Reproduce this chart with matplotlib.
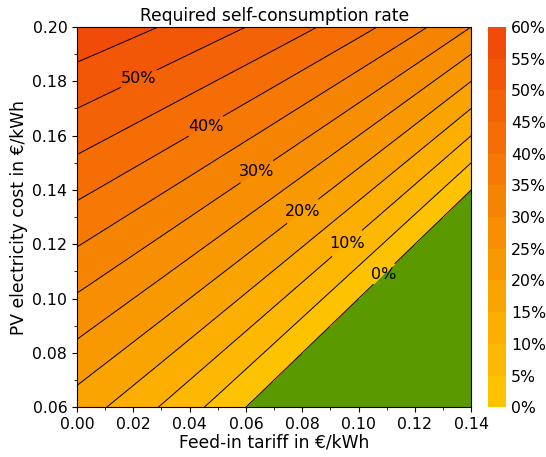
import numpy as np
import matplotlib
matplotlib.use("Agg")
from matplotlib import pyplot as plt
from matplotlib.colors import LinearSegmentedColormap
from matplotlib.ticker import MultipleLocator

# feed-in tariff (x) and PV electricity cost (y) in EUR/kWh
feed_in = [0.00, 0.01, 0.02, 0.03, 0.04, 0.05, 0.06, 0.07,
           0.08, 0.09, 0.10, 0.11, 0.12, 0.13, 0.14]
pv_cost = [0.06, 0.20]

# required self-consumption rate in %, read along the bottom and top edge
rate_bottom = [17.65, 15.15, 12.50, 9.68, 6.67, 3.45, 0.00, -3.70,
               -7.69, -12.00, -16.67, -21.74, -27.27, -33.33, -40.00]
rate_top = [58.82, 57.58, 56.25, 54.84, 53.33, 51.72, 50.00, 48.15,
            46.15, 44.00, 41.67, 39.13, 36.36, 33.33, 30.00]

levels = list(range(0, 65, 5))
label_levels = [0, 10, 20, 30, 40, 50]
plain_levels = [5, 15, 25, 35, 45, 55]
cbar_labels = [f"{v}%" for v in levels]

cmap = LinearSegmentedColormap.from_list("sc", ["#ffc800", "#f78a02", "#f0460a"])
green = "#5a9a00"

X, Y = np.meshgrid(feed_in, pv_cost)
Z = np.array([rate_bottom, rate_top])

fig = plt.figure(figsize=(5.46, 4.57), dpi=100)
ax = fig.add_axes([0.141, 0.109, 0.722, 0.832])
cax = fig.add_axes([0.894, 0.109, 0.032, 0.832])

ax.contourf(X, Y, Z, levels=[-100, 0], colors=[green])
cf = ax.contourf(X, Y, Z, levels=levels, cmap=cmap)
ax.contour(X, Y, Z, levels=plain_levels, colors="black", linewidths=0.7)
cs = ax.contour(X, Y, Z, levels=label_levels, colors="black", linewidths=0.7)

label_pos = [(0.110, 0.108), (0.097, 0.119), (0.081, 0.131),
             (0.065, 0.145), (0.046, 0.163), (0.022, 0.181)]
labels = ax.clabel(cs, fmt="%d%%", fontsize=11.5, inline=True,
                   inline_spacing=2, manual=label_pos)
for t in labels:
    t.set_rotation(0)

ax.set_xlim(0, 0.14)
ax.set_ylim(0.06, 0.20)
ax.xaxis.set_major_locator(MultipleLocator(0.02))
ax.xaxis.set_minor_locator(MultipleLocator(0.01))
ax.yaxis.set_major_locator(MultipleLocator(0.02))
ax.yaxis.set_minor_locator(MultipleLocator(0.01))
ax.xaxis.set_major_formatter(lambda v, p: f"{v:.2f}")
ax.yaxis.set_major_formatter(lambda v, p: f"{v:.2f}")
ax.tick_params(labelsize=11.3)
ax.set_xlabel("Feed-in tariff in €/kWh", fontsize=12.3, labelpad=1)
ax.set_ylabel("PV electricity cost in €/kWh", fontsize=12.3, labelpad=3)
ax.set_title("Required self-consumption rate", fontsize=12.3, pad=4)

cb = fig.colorbar(cf, cax=cax, ticks=levels)
cb.ax.set_yticklabels(cbar_labels)
cb.ax.tick_params(length=0, labelsize=11.3, pad=4)
cb.outline.set_visible(False)

fig.savefig("out.png", dpi=100)
